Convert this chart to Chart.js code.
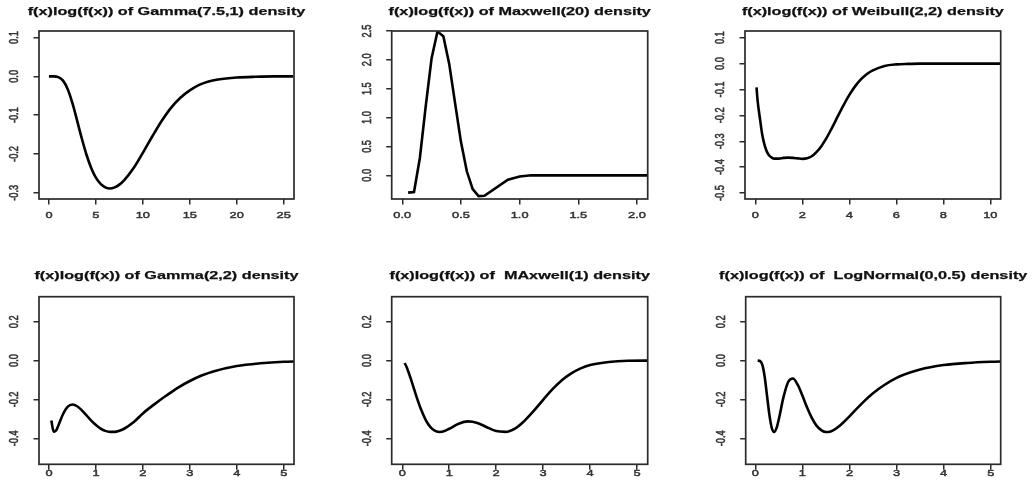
<!DOCTYPE html>
<html>
<head>
<meta charset="utf-8">
<script src="https://cdn.jsdelivr.net/npm/chart.js@4.4.0/dist/chart.umd.min.js"></script>
<style>
  html, body { margin: 0; padding: 0; background: #fff; }
  #wrap { position: relative; width: 1034px; height: 493px; overflow: hidden; }
  #wrap canvas { position: absolute; }
</style>
</head>
<body>
<div id="wrap">
  <canvas id="p1"></canvas>
  <canvas id="p2"></canvas>
  <canvas id="p3"></canvas>
  <canvas id="p4"></canvas>
  <canvas id="p5"></canvas>
  <canvas id="p6"></canvas>
</div>
<script>
// ──────────────────────────────────────────────────
// f(x)log(f(x)) panels — six small R-style plots
// ──────────────────────────────────────────────────

// ─── Data ────────────────────────────────────────
const gamma75X = [0, 0.5, 1, 1.5, 2, 2.5, 3, 3.5, 4, 4.5, 5, 5.5, 6, 6.5, 7, 7.5, 8, 9, 10, 11, 12, 13, 14, 15, 16, 17, 18, 20, 22, 24, 26];
const gamma75Y = [0, 0, -0.002, -0.011, -0.033, -0.069, -0.114, -0.160, -0.202, -0.236, -0.261, -0.277, -0.286, -0.289, -0.286, -0.279, -0.268, -0.237, -0.197, -0.155, -0.115, -0.081, -0.055, -0.036, -0.022, -0.013, -0.008, -0.003, -0.001, 0, 0];

const maxwell20X = [0.05, 0.1, 0.15, 0.2, 0.25, 0.3, 0.35, 0.4, 0.45, 0.5, 0.55, 0.6, 0.65, 0.7, 0.9, 1.0, 1.1, 1.5, 2.1];
const maxwell20Y = [-0.30, -0.29, 0.30, 1.20, 2.03, 2.49, 2.41, 1.93, 1.25, 0.58, 0.07, -0.24, -0.36, -0.355, -0.075, -0.02, 0, 0, 0];

const weibullX = [0.05, 0.1, 0.2, 0.3, 0.4, 0.5, 0.6, 0.7, 0.8, 1.0, 1.2, 1.4, 1.6, 1.8, 2.0, 2.2, 2.4, 2.6, 2.8, 3.0, 3.25, 3.5, 3.75, 4.0, 4.25, 4.5, 4.75, 5.0, 5.5, 6.0, 6.5, 7, 8, 9, 10.5];
const weibullY = [-0.092, -0.146, -0.215, -0.278, -0.317, -0.342, -0.356, -0.363, -0.367, -0.367, -0.364, -0.363, -0.364, -0.366, -0.368, -0.366, -0.358, -0.342, -0.320, -0.292, -0.250, -0.205, -0.161, -0.121, -0.087, -0.060, -0.040, -0.026, -0.009, -0.003, -0.001, 0, 0, 0, 0];

const gamma22X = [0.05, 0.1, 0.15, 0.2, 0.3, 0.4, 0.5, 0.6, 0.7, 0.8, 0.9, 1.0, 1.1, 1.2, 1.3, 1.4, 1.5, 1.6, 1.8, 2.0, 2.25, 2.5, 2.75, 3.0, 3.25, 3.5, 4.0, 4.5, 5.0, 5.3];
const gamma22Y = [-0.309, -0.366, -0.360, -0.334, -0.275, -0.237, -0.226, -0.235, -0.256, -0.282, -0.309, -0.332, -0.350, -0.362, -0.367, -0.367, -0.361, -0.351, -0.318, -0.272, -0.224, -0.180, -0.139, -0.105, -0.077, -0.056, -0.028, -0.014, -0.006, -0.004];

const maxwell1X = [0.05, 0.1, 0.2, 0.3, 0.4, 0.5, 0.6, 0.7, 0.8, 0.9, 1.0, 1.2, 1.4, 1.6, 1.8, 2.0, 2.2, 2.4, 2.6, 2.8, 3.0, 3.2, 3.4, 3.6, 3.8, 4.0, 4.4, 4.8, 5.3];
const maxwell1Y = [-0.012, -0.038, -0.108, -0.184, -0.252, -0.306, -0.343, -0.362, -0.368, -0.363, -0.351, -0.325, -0.313, -0.321, -0.343, -0.363, -0.367, -0.350, -0.311, -0.259, -0.202, -0.147, -0.101, -0.066, -0.040, -0.023, -0.007, -0.001, 0];

const lognormX = [0.05, 0.1, 0.15, 0.2, 0.25, 0.3, 0.35, 0.4, 0.45, 0.5, 0.6, 0.7, 0.8, 0.9, 1.0, 1.1, 1.2, 1.3, 1.4, 1.5, 1.6, 1.8, 2.0, 2.25, 2.5, 3.0, 3.5, 4.0, 4.5, 5.0, 5.3];
const lognormY = [0, -0.002, -0.022, -0.085, -0.183, -0.281, -0.347, -0.368, -0.348, -0.301, -0.187, -0.109, -0.092, -0.124, -0.180, -0.242, -0.295, -0.335, -0.358, -0.368, -0.365, -0.334, -0.287, -0.224, -0.168, -0.089, -0.046, -0.023, -0.012, -0.006, -0.004];

// ─── Tick values + labels ────────────────────────
const ticksX25 = [0, 5, 10, 15, 20, 25];
const labelsX25 = ['0', '5', '10', '15', '20', '25'];
const ticksX2 = [0, 0.5, 1, 1.5, 2];
const labelsX2 = ['0.0', '0.5', '1.0', '1.5', '2.0'];
const ticksX10 = [0, 2, 4, 6, 8, 10];
const labelsX10 = ['0', '2', '4', '6', '8', '10'];
const ticksX5 = [0, 1, 2, 3, 4, 5];
const labelsX5 = ['0', '1', '2', '3', '4', '5'];

const ticksYGamma = [-0.3, -0.2, -0.1, 0, 0.1];
const labelsYGamma = ['-0.3', '-0.2', '-0.1', '0.0', '0.1'];
const ticksYMax20 = [0, 0.5, 1, 1.5, 2, 2.5];
const labelsYMax20 = ['0.0', '0.5', '1.0', '1.5', '2.0', '2.5'];
const ticksYWeib = [-0.5, -0.4, -0.3, -0.2, -0.1, 0, 0.1];
const labelsYWeib = ['-0.5', '-0.4', '-0.3', '-0.2', '-0.1', '0.0', '0.1'];
const ticksYLow = [-0.4, -0.2, 0, 0.2];
const labelsYLow = ['-0.4', '-0.2', '0.0', '0.2'];

const titles = [
  'f(x)log(f(x)) of Gamma(7.5,1) density',
  'f(x)log(f(x)) of Maxwell(20) density',
  'f(x)log(f(x)) of Weibull(2,2) density',
  'f(x)log(f(x)) of Gamma(2,2) density',
  'f(x)log(f(x)) of  MAxwell(1) density',
  'f(x)log(f(x)) of  LogNormal(0,0.5) density',
];

// ─── Look ────────────────────────────────────────
const FONT = "'Liberation Sans', Arial, sans-serif";
const LINE_COLOR = '#000';
const FRAME_COLOR = '#2b2b2b';
const TEXT_COLOR = '#333';
const STRETCH_TITLE = 1.45;  // source picture is stretched sideways
const STRETCH_TICK = 1.35;

// ─── Panel layout (page pixels) ──────────────────
const panels = {
  p1: { cell: [0, 0, 345, 246], frame: [39, 31, 294, 199], x: [-1.06, 26.1], y: [-0.316, 0.117],
        xs: gamma75X, ys: gamma75Y, xt: ticksX25, xl: labelsX25, yt: ticksYGamma, yl: labelsYGamma, title: titles[0], titleGap: 19.5, xGap: 16 },
  p2: { cell: [345, 0, 344, 246], frame: [391.7, 31, 647.7, 199], x: [-0.09, 2.091], y: [-0.41, 2.5],
        xs: maxwell20X, ys: maxwell20Y, xt: ticksX2, xl: labelsX2, yt: ticksYMax20, yl: labelsYMax20, title: titles[1], titleGap: 19.5, xGap: 16, straight: true },
  p3: { cell: [689, 0, 345, 246], frame: [745, 31, 1000.7, 199], x: [-0.44, 10.44], y: [-0.523, 0.126],
        xs: weibullX, ys: weibullY, xt: ticksX10, xl: labelsX10, yt: ticksYWeib, yl: labelsYWeib, title: titles[2], titleGap: 19.5, xGap: 16 },
  p4: { cell: [0, 246, 345, 247], frame: [39, 296.7, 294, 464.3], x: [-0.213, 5.219], y: [-0.534, 0.329],
        xs: gamma22X, ys: gamma22Y, xt: ticksX5, xl: labelsX5, yt: ticksYLow, yl: labelsYLow, title: titles[3], titleGap: 21, xGap: 9.5 },
  p5: { cell: [345, 246, 344, 247], frame: [391.7, 296.7, 647.7, 464.3], x: [-0.226, 5.228], y: [-0.534, 0.329],
        xs: maxwell1X, ys: maxwell1Y, xt: ticksX5, xl: labelsX5, yt: ticksYLow, yl: labelsYLow, title: titles[4], titleGap: 21, xGap: 9.5 },
  p6: { cell: [689, 246, 345, 247], frame: [745.7, 296.7, 1000.7, 464.3], x: [-0.204, 5.212], y: [-0.534, 0.329],
        xs: lognormX, ys: lognormY, xt: ticksX5, xl: labelsX5, yt: ticksYLow, yl: labelsYLow, title: titles[5], titleGap: 21, xGap: 9.5 },
};

// ─── Text helper (horizontal stretch) ────────────
function stretchedText(ctx, text, x, y, k, rotate, weight) {
  ctx.save();
  ctx.translate(x, y);
  ctx.scale(k, 1);
  if (rotate) ctx.rotate(-Math.PI / 2);
  if (weight) {
    ctx.lineWidth = weight;
    ctx.strokeStyle = ctx.fillStyle;
    ctx.strokeText(text, 0, 0);
  }
  ctx.fillText(text, 0, 0);
  ctx.restore();
}

// ─── Frame, title and tick labels ────────────────
const rFrame = {
  id: 'rFrame',
  afterDraw(chart) {
    const p = panels[chart.canvas.id];
    const { ctx, chartArea: a } = chart;
    const sx = chart.scales.x, sy = chart.scales.y;
    ctx.save();

    ctx.strokeStyle = FRAME_COLOR;
    ctx.lineWidth = 1.7;
    ctx.strokeRect(a.left, a.top, a.right - a.left, a.bottom - a.top);

    ctx.fillStyle = '#111';
    ctx.textAlign = 'center';
    ctx.textBaseline = 'middle';
    ctx.font = `bold 11.2px ${FONT}`;
    stretchedText(ctx, p.title, (a.left + a.right) / 2, a.top - p.titleGap, STRETCH_TITLE, false, 0.25);

    ctx.fillStyle = TEXT_COLOR;
    ctx.font = `9.5px ${FONT}`;
    p.xt.forEach((v, i) => {
      stretchedText(ctx, p.xl[i], sx.getPixelForValue(v), a.bottom + p.xGap, STRETCH_TICK, false, 0.45);
    });
    ctx.font = `9.2px ${FONT}`;
    p.yt.forEach((v, i) => {
      stretchedText(ctx, p.yl[i], a.left - 24, sy.getPixelForValue(v), 1.35, true, 0.45);
    });
    ctx.restore();
  },
};

// ─── Build one panel ─────────────────────────────
function makePanel(id) {
  const p = panels[id];
  const [cx, cy, cw, ch] = p.cell;
  const [fl, ft, fr, fb] = p.frame;
  const AXIS = 20;
  const canvas = document.getElementById(id);
  canvas.width = cw;
  canvas.height = ch;
  canvas.style.left = cx + 'px';
  canvas.style.top = cy + 'px';

  const tickGrid = {
    display: true,
    drawOnChartArea: false,
    drawTicks: true,
    tickLength: 5.5,
    color: FRAME_COLOR,
    lineWidth: 1.5,
  };

  new Chart(canvas, {
    type: 'line',
    data: {
      datasets: [{
        data: p.xs.map((x, i) => ({ x, y: p.ys[i] })),
        borderColor: LINE_COLOR,
        borderWidth: 2.6,
        pointRadius: 0,
        fill: false,
        tension: 0,
        cubicInterpolationMode: p.straight ? 'default' : 'monotone',
      }],
    },
    options: {
      responsive: false,
      animation: false,
      events: [],
      layout: {
        padding: { left: fl - cx - AXIS, top: ft - cy, right: cx + cw - fr, bottom: cy + ch - fb - AXIS },
      },
      plugins: {
        legend: { display: false },
        title: { display: false },
        tooltip: { enabled: false },
      },
      scales: {
        x: {
          type: 'linear',
          min: p.x[0],
          max: p.x[1],
          afterBuildTicks: (s) => { s.ticks = p.xt.map(v => ({ value: v })); },
          afterFit: (s) => { s.height = AXIS; },
          ticks: { display: false },
          grid: tickGrid,
          border: { display: false },
        },
        y: {
          type: 'linear',
          min: p.y[0],
          max: p.y[1],
          afterBuildTicks: (s) => { s.ticks = p.yt.map(v => ({ value: v })); },
          afterFit: (s) => { s.width = AXIS; },
          ticks: { display: false },
          grid: tickGrid,
          border: { display: false },
        },
      },
    },
    plugins: [rFrame],
  });
}

Object.keys(panels).forEach(makePanel);
</script>
</body>
</html>
